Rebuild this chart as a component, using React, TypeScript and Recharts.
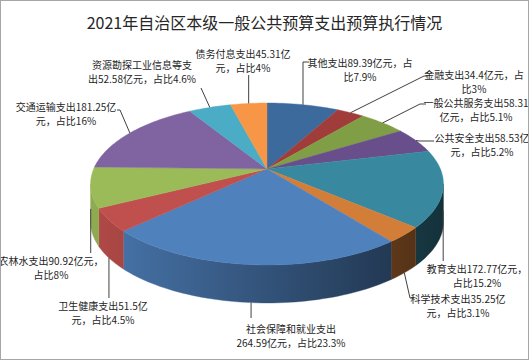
import { PieChart, Pie } from "recharts";

const names = [
  "其他支出", "金融支出", "一般公共服务支出", "公共安全支出", "教育支出", "科学技术支出",
  "社会保障和就业支出", "卫生健康支出", "农林水支出", "交通运输支出", "资源勘探工业信息等支出", "债务付息支出",
];
const values = [89.39, 34.4, 58.31, 58.53, 172.77, 35.25, 264.59, 51.5, 90.92, 181.25, 52.58, 45.31];
const shares = ["7.9", "3", "5.1", "5.2", "15.2", "3.1", "23.3", "4.5", "8", "16", "4.6", "4"];
const colors = [
  "#3D6A9D", "#A03D3A", "#7F9E45", "#684F8B", "#3889A0", "#D27E39",
  "#4F81BD", "#C0504D", "#9BBB59", "#8064A2", "#4BACC6", "#F79646",
];
// where each label wraps onto its second line
const wrapAt = [13, 12, 13, 12, 13, 12, 9, 11, 13, 13, 10, 12];

const data = names.map((name, i) => ({ name, value: values[i] }));

// 3d look: apex, radius, tilt, perspective, wall height
const CX = 267;
const CY = 169;
const R = 173.4;
const TILT = 0.451;
const PERSP = 0.185;
const DEPTH = 38;
const FRONT_HI = 90 - (Math.acos(-PERSP) * 180) / Math.PI;
const FRONT_LO = -180 - FRONT_HI;

// label text centre (tx, ty) and leader knee / end; kx null = straight up/down
const labelBoxes = [
  { tx: 360, ty: 62, kx: null, ky: 62, ex: 309, ey: 62 },
  { tx: 474, ty: 74, kx: 424, ky: 76, ex: 428, ey: 76 },
  { tx: 476, ty: 102, kx: 420, ky: 104, ex: 426, ey: 104 },
  { tx: 482, ty: 137, kx: 420, ky: 141, ex: 434, ey: 141 },
  { tx: 477, ty: 268, kx: null, ky: 261, ex: null, ey: 261 },
  { tx: 458, ty: 298, kx: 410, ky: 298, ex: 413, ey: 298 },
  { tx: 291, ty: 328, kx: null, ky: 318, ex: null, ey: 318 },
  { tx: 103, ty: 305, kx: null, ky: 298, ex: null, ey: 298 },
  { tx: 51, ty: 260, kx: null, ky: 253, ex: null, ey: 253 },
  { tx: 66, ty: 106, kx: 120, ky: 110, ex: 117, ey: 110 },
  { tx: 142, ty: 64, kx: 201, ky: 88, ex: 201, ey: 88 },
  { tx: 243, ty: 53, kx: null, ky: 75, ex: null, ey: 75 },
];

const FONT = "'Noto Sans CJK SC', sans-serif";

function project(cx: number, cy: number, r: number, a: number, dy = 0) {
  const rad = (a * Math.PI) / 180;
  const u = Math.cos(rad);
  const v = Math.sin(rad);
  const s = 1 / (1 + PERSP * v);
  return [cx + r * u * s, cy - r * TILT * v * s + dy];
}

function arcPts(cx: number, cy: number, r: number, a0: number, a1: number, dy: number) {
  const n = Math.max(2, Math.ceil(Math.abs(a1 - a0) / 1.5));
  const pts: string[] = [];
  for (let i = 0; i <= n; i++) {
    const p = project(cx, cy, r, a0 + ((a1 - a0) * i) / n, dy);
    pts.push(`${p[0].toFixed(2)},${p[1].toFixed(2)}`);
  }
  return pts;
}

function shade(hex: string, f: number) {
  const n = parseInt(hex.slice(1), 16);
  const c = [(n >> 16) & 255, (n >> 8) & 255, n & 255].map((v) => Math.round(v * f));
  return `rgb(${c[0]},${c[1]},${c[2]})`;
}

// drawn through the label hook of a hidden pie, so it gets the library's angles
function renderSlice(props: any) {
  const { cx, cy, outerRadius, startAngle, endAngle, index } = props;
  const fill = colors[index];
  const top = `M${cx},${cy} L${arcPts(cx, cy, outerRadius, startAngle, endAngle, 0).join(" L")} Z`;
  const hi = Math.min(Math.max(startAngle, endAngle), FRONT_HI);
  const lo = Math.max(Math.min(startAngle, endAngle), FRONT_LO);
  const id = `side${index}`;
  let side = "";
  if (hi > lo) {
    side =
      `M${arcPts(cx, cy, outerRadius, hi, lo, 0).join(" L")} L` +
      `${arcPts(cx, cy, outerRadius, lo, hi, DEPTH).join(" L")} Z`;
  }
  return (
    <g key={`slice${index}`}>
      <defs>
        <linearGradient id={id} gradientUnits="userSpaceOnUse" x1={cx - outerRadius * 1.02} x2={cx + outerRadius * 1.02} y1={0} y2={0}>
          <stop offset="0" stopColor={shade(fill, 0.92)} />
          <stop offset="1" stopColor={shade(fill, 0.36)} />
        </linearGradient>
      </defs>
      {side && <path d={side} fill={`url(#${id})`} stroke={`url(#${id})`} strokeWidth={0.4} />}
      <path d={top} fill={fill} stroke={fill} strokeWidth={0.4} />
    </g>
  );
}

function renderLabel(props: any) {
  const { cx, cy, midAngle, outerRadius, index } = props;
  const box = labelBoxes[index];
  const [x, y0] = project(cx, cy, outerRadius, midAngle);
  const v = Math.sin((midAngle * Math.PI) / 180);
  const front = midAngle < FRONT_HI && midAngle > FRONT_LO;
  const y = front ? y0 + DEPTH * Math.min(1, 0.3 + 1.2 * -v) : y0;
  const kx = box.kx ?? x;
  const ex = box.ex ?? x;
  const full = `${names[index]}${values[index]}亿元，占比${shares[index]}%`;
  const l1 = full.slice(0, wrapAt[index]);
  const l2 = full.slice(wrapAt[index]);
  return (
    <g key={`lbl${index}`}>
      <polyline points={`${x},${y} ${kx},${box.ky} ${ex},${box.ey}`} fill="none" stroke="#404040" strokeWidth={1} />
      <text x={box.tx} y={box.ty} textAnchor="middle" dominantBaseline="central" fontSize={10} fill="#1e1e1e" fontFamily={FONT}>
        {l1}
      </text>
      <text x={box.tx} y={box.ty + 14} textAnchor="middle" dominantBaseline="central" fontSize={10} fill="#1e1e1e" fontFamily={FONT}>
        {l2}
      </text>
    </g>
  );
}

export default function App() {
  return (
    <div style={{ position: "fixed", left: 0, top: 0, width: 529, height: 360, background: "#fff" }}>
      <div
        style={{
          position: "absolute", left: 0, top: 11, width: 529, textAlign: "center",
          fontFamily: FONT, fontSize: 16, lineHeight: "22px", color: "#262626",
        }}
      >
        2021年自治区本级一般公共预算支出预算执行情况
      </div>
      <div style={{ position: "absolute", left: 0, top: 0 }}>
        <PieChart width={529} height={360} margin={{ top: 0, right: 0, bottom: 0, left: 0 }}>
          <Pie
            data={data}
            dataKey="value"
            nameKey="name"
            cx={CX}
            cy={CY}
            innerRadius={0}
            outerRadius={R}
            startAngle={90}
            endAngle={-270}
            fill="none"
            stroke="none"
            isAnimationActive={false}
            label={renderSlice}
            labelLine={false}
          />
          <Pie
            data={data}
            dataKey="value"
            nameKey="name"
            cx={CX}
            cy={CY}
            innerRadius={0}
            outerRadius={R}
            startAngle={90}
            endAngle={-270}
            fill="none"
            stroke="none"
            isAnimationActive={false}
            label={renderLabel}
            labelLine={false}
          />
        </PieChart>
      </div>
      <div
        style={{
          position: "absolute", left: 0, top: 0, width: 529, height: 360, boxSizing: "border-box",
          border: "1px solid #a6a6a6", pointerEvents: "none",
        }}
      />
    </div>
  );
}
